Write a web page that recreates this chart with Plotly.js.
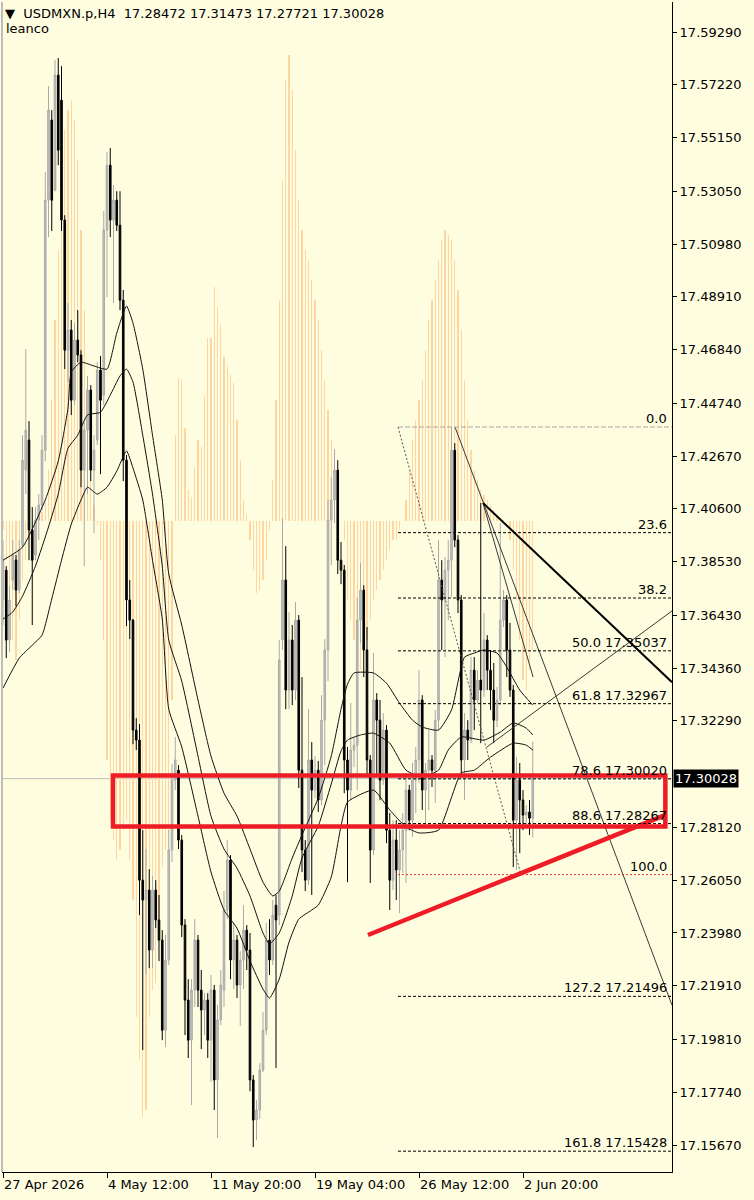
<!DOCTYPE html>
<html>
<head>
<meta charset="utf-8">
<script src="https://cdn.plot.ly/plotly-3.0.1.min.js"></script>
<style>html,body{margin:0;padding:0;background:#FEFDE0;}#chart{width:754px;height:1200px;}</style>
</head>
<body>
<div id="chart"></div>
<script>
// ---- OHLC (USDMXN.p, H4) ----
const open = [
17.3703,17.3820,17.3546,17.3781,17.3859,17.3742,17.3918,17.4212,17.4330,17.3977,
17.3879,17.4016,17.4075,17.4290,17.5270,17.5584,17.5309,17.5760,17.5662,17.5192,
17.4682,17.4761,17.4486,17.4722,17.4663,17.4212,17.4369,17.4526,17.4212,17.4330,
17.4604,17.4506,17.5153,17.5407,17.5192,17.5270,17.5172,17.4878,17.4251,17.3703,
17.3624,17.3193,17.3154,17.2605,17.2527,17.2566,17.2331,17.2566,17.2449,17.2370,
17.2017,17.2292,17.2723,17.2997,17.3036,17.2762,17.2429,17.2135,17.1978,17.2174,
17.2370,17.2174,17.2096,17.2135,17.1978,17.2174,17.1822,17.2057,17.2174,17.2488,
17.2684,17.2292,17.2370,17.2194,17.2292,17.2409,17.2331,17.1822,17.1665,17.1704,
17.1861,17.2017,17.2370,17.2292,17.2507,17.2468,17.3546,17.3781,17.3350,17.3546,
17.3350,17.3624,17.3036,17.2723,17.2605,17.3076,17.2958,17.3036,17.2919,17.3232,
17.3507,17.4016,17.4095,17.4212,17.3859,17.3820,17.3076,17.2958,17.3115,17.3134,
17.3624,17.3742,17.3507,17.3076,17.2723,17.3311,17.3232,17.2997,17.3193,17.2801,
17.2605,17.2762,17.2645,17.2723,17.2801,17.2958,17.2840,17.2997,17.3076,17.3311,
17.2958,17.3036,17.3076,17.3036,17.3232,17.3781,17.3703,17.3820,17.3859,17.4290,
17.3938,17.3703,17.3076,17.3193,17.3154,17.3428,17.3311,17.3389,17.3350,17.3546,
17.3428,17.3350,17.3232,17.3311,17.3624,17.3703,17.3507,17.3350,17.2840,17.2997,
17.2919,17.2860,17.2872,17.28472];
const high = [
17.3938,17.3836,17.3758,17.3938,17.3879,17.3938,17.4349,17.4686,17.4404,17.4067,
17.4067,17.4118,17.4349,17.5380,17.5717,17.5623,17.5819,17.5827,17.5795,17.5211,
17.4867,17.4800,17.4788,17.4839,17.4682,17.4400,17.4581,17.4545,17.4349,17.4635,
17.4659,17.5227,17.5458,17.5474,17.5329,17.5305,17.5305,17.4918,17.4271,17.3781,
17.3628,17.3240,17.3217,17.2801,17.2727,17.2648,17.2621,17.2605,17.2547,17.2409,
17.2390,17.2801,17.3060,17.3166,17.3056,17.2782,17.2452,17.2217,17.2217,17.2452,
17.2390,17.2253,17.2162,17.2162,17.2233,17.2194,17.2115,17.2253,17.2562,17.2762,
17.2703,17.2437,17.2390,17.2327,17.2507,17.2429,17.2398,17.1841,17.1743,17.1888,
17.2088,17.2437,17.2452,17.2527,17.2547,17.3546,17.4024,17.3914,17.3656,17.3605,
17.3695,17.3644,17.3401,17.2762,17.3275,17.3146,17.3091,17.3072,17.3330,17.3550,
17.4095,17.4185,17.4294,17.4251,17.3930,17.3840,17.3127,17.3299,17.3166,17.3714,
17.3848,17.3761,17.3597,17.3095,17.3495,17.3338,17.3311,17.3260,17.3213,17.2868,
17.2840,17.2840,17.2801,17.2868,17.3025,17.2978,17.3064,17.3127,17.3428,17.3330,
17.3064,17.3193,17.3095,17.3272,17.3938,17.3859,17.3871,17.3938,17.4381,17.4318,
17.3957,17.3722,17.3260,17.3232,17.3479,17.3479,17.3428,17.4083,17.3652,17.3565,
17.3507,17.3456,17.3362,17.4004,17.3742,17.3722,17.3613,17.3370,17.3087,17.3064,
17.2958,17.2899,17.2919,17.31473];
const low = [
17.3605,17.3475,17.3499,17.3742,17.3679,17.3730,17.3906,17.4118,17.3859,17.3605,
17.3859,17.3938,17.4055,17.4247,17.5125,17.5149,17.5305,17.5407,17.5149,17.4608,
17.4557,17.4428,17.4467,17.4635,17.4145,17.3836,17.4118,17.4169,17.3965,17.4310,
17.4196,17.4467,17.4890,17.5125,17.4867,17.5149,17.4839,17.4169,17.3601,17.3550,
17.3138,17.3115,17.2468,17.1939,17.2237,17.2260,17.2260,17.2417,17.2288,17.1978,
17.1951,17.2272,17.2676,17.2958,17.2727,17.2382,17.1998,17.1908,17.1724,17.2108,
17.2108,17.1943,17.1998,17.1908,17.1814,17.1704,17.1594,17.2037,17.2108,17.2452,
17.2217,17.2178,17.2143,17.2033,17.2178,17.2253,17.1778,17.1559,17.1586,17.1669,
17.1853,17.1998,17.2233,17.2272,17.1869,17.2429,17.3507,17.3275,17.3275,17.3291,
17.3311,17.2966,17.2637,17.2562,17.2586,17.2547,17.2927,17.2872,17.2899,17.3056,
17.3385,17.3840,17.4004,17.3805,17.3765,17.2946,17.2597,17.2919,17.3048,17.2958,
17.3534,17.3401,17.3009,17.2594,17.2703,17.3009,17.2919,17.2978,17.2750,17.2488,
17.2566,17.2527,17.2476,17.2633,17.2594,17.2801,17.2774,17.2868,17.2985,17.2880,
17.2829,17.2880,17.2970,17.2907,17.3193,17.3507,17.3479,17.3624,17.3714,17.3910,
17.3652,17.3009,17.2919,17.3076,17.3142,17.3193,17.3299,17.3142,17.3323,17.3350,
17.3272,17.3142,17.3205,17.3291,17.3597,17.3401,17.3323,17.2656,17.2645,17.2711,
17.2801,17.2821,17.2782,17.27721];
const close = [
17.3859,17.3546,17.3703,17.3879,17.3742,17.3899,17.4251,17.4369,17.3977,17.3859,
17.4016,17.4075,17.4290,17.5270,17.5623,17.5270,17.5760,17.5466,17.5192,17.4682,
17.4761,17.4486,17.4722,17.4663,17.4212,17.4369,17.4526,17.4212,17.4290,17.4604,
17.4486,17.5153,17.5407,17.5192,17.5270,17.5172,17.4878,17.4251,17.3703,17.3624,
17.3193,17.3154,17.2605,17.2527,17.2566,17.2331,17.2566,17.2449,17.2370,17.2017,
17.2292,17.2723,17.2997,17.3076,17.2762,17.2429,17.2135,17.1978,17.2174,17.2370,
17.2174,17.2096,17.2135,17.1978,17.2174,17.1822,17.2057,17.2194,17.2488,17.2684,
17.2292,17.2370,17.2194,17.2292,17.2409,17.2331,17.1822,17.1665,17.1704,17.1861,
17.2017,17.2370,17.2292,17.2468,17.2449,17.3468,17.3781,17.3350,17.3546,17.3350,
17.3624,17.3036,17.2723,17.2605,17.3076,17.2958,17.3036,17.2919,17.3232,17.3507,
17.4016,17.4095,17.4212,17.3859,17.3820,17.3076,17.2958,17.3115,17.3134,17.3624,
17.3742,17.3507,17.3076,17.2723,17.3311,17.3232,17.2997,17.3193,17.2801,17.2605,
17.2762,17.2645,17.2723,17.2801,17.2958,17.2840,17.2997,17.3076,17.3311,17.2958,
17.3036,17.3076,17.3036,17.3232,17.3781,17.3703,17.3820,17.3859,17.4290,17.3938,
17.3703,17.3076,17.3193,17.3154,17.3428,17.3311,17.3389,17.3350,17.3546,17.3428,
17.3350,17.3232,17.3311,17.3624,17.3703,17.3507,17.3350,17.2840,17.2997,17.2919,
17.2860,17.2872,17.2848,17.30028];

// ---- oscillator histogram (own scale, 0 = its baseline) ----
const oscValues = [
-9,-39,-79,-119,-139,-99,-59,-39,-19,-9,
-4,0,9,21,
51,121,201,271,341,391,411,421,401,361,291,211,121,
51,16,-4,-39,-119,
-239,-299,-319,-339,-329,-309,-299,-339,-379,-496,-539,-596,-589,
-496,-469,-462,-409,-346,-329,-312,-179,
86,143,141,93,31,24,54,81,74,126,183,183,234,214,196,164,154,146,138,101,61,21,6,
-19,-49,-72,-69,-59,-39,-9,41,
121,221,341,441,466,431,371,321,291,271,261,241,221,201,171,141,111,81,51,21,0,-19,
-79,-99,-119,-139,-149,-129,-119,-99,-79,-69,-59,-49,-39,-29,-19,
-19,-9,0,21,51,81,
101,121,141,171,201,221,241,261,281,
291,286,281,261,231,191,141,
101,71,51,41,31,26,21,16,11,6,3,1,0,
-19,-49,-79,-119,-159,-169,-149,-129];

// ---- moving-average lines (bar, price) ----
const maA_x = [0,6,13,17,20,21,24,28,32,35,38,40,43,46,49,51,55,60,64,68,72,76,80,83,85,89,92,97,101,104,106,108,114,118,122,126,129,134,138,142,145,148,152,155,159,163];
const maA_y = [17.3859,17.3910,17.4095,17.4247,17.4455,17.4596,17.4635,17.4620,17.4608,17.4749,17.4855,17.4788,17.4608,17.4349,17.4095,17.3805,17.3605,17.3311,17.3091,17.2946,17.2856,17.2727,17.2597,17.2543,17.2562,17.2692,17.2782,17.2927,17.3091,17.3275,17.3373,17.3417,17.3417,17.3377,17.3299,17.3232,17.3205,17.3193,17.3272,17.3479,17.3495,17.3507,17.3495,17.3440,17.3350,17.3291];
const maB_x = [0,3,6,10,14,17,20,23,26,30,33,36,38,40,43,46,49,51,55,60,64,68,72,76,80,82,85,89,92,97,101,104,106,110,114,119,124,129,134,137,141,148,153,157,161,163];
const maB_y = [17.3628,17.3656,17.3718,17.3836,17.3989,17.4118,17.4298,17.4349,17.4428,17.4439,17.4506,17.4581,17.4608,17.4557,17.4349,17.4118,17.3836,17.3546,17.3385,17.3091,17.2856,17.2727,17.2652,17.2543,17.2398,17.2355,17.2398,17.2543,17.2692,17.2817,17.2982,17.3111,17.3154,17.3174,17.3181,17.3142,17.3036,17.3009,17.3036,17.3115,17.3166,17.3154,17.3185,17.3221,17.3201,17.3174];
const maC_x = [0,5,9,12,15,18,21,24,26,29,32,35,38,40,43,46,49,51,55,60,64,68,72,76,80,82,85,88,91,95,97,101,104,106,114,119,124,128,134,141,145,150,157,161,163];
const maC_y = [17.3358,17.3475,17.3526,17.3565,17.3707,17.3859,17.4000,17.4095,17.4145,17.4118,17.4145,17.4208,17.4287,17.4220,17.4095,17.3859,17.3628,17.3275,17.3127,17.2856,17.2637,17.2488,17.2417,17.2288,17.2178,17.2143,17.2217,17.2362,17.2452,17.2488,17.2507,17.2617,17.2817,17.2911,17.2958,17.2880,17.2813,17.2790,17.2801,17.3025,17.3036,17.3087,17.3142,17.3134,17.3115];

// ---- Fibonacci retracement ----
const fibLevels = [0.0, 23.6, 38.2, 50.0, 61.8, 78.6, 88.6, 100.0, 127.2, 161.8];
const fibPrices = [17.43808, 17.39669, 17.37108, 17.35037, 17.32967, 17.30020, 17.28267, 17.26266, 17.21496, 17.15428];
const fibShowPrice = [false, false, false, true, true, true, true, false, true, true];
const fibAnchorBars = [121.54, 159.38];

// ---- drawn trend lines (bar, price) ----
const tl1_x = [139.08, 205.85], tl1_y = [17.43808, 17.2115];
const tl2_x = [147.69, 163.1],  tl2_y = [17.4083, 17.3401];
const tl3_x = [147.69, 205.85], tl3_y = [17.4083, 17.3381];
const tl4_x = [148.9, 205.85],  tl4_y = [17.3127, 17.3660];
const redLine_x = [112.3, 203.7], redLine_y = [17.2390, 17.2860];
const redBox_x = [33.85, 203.8], redBox_y = [17.2815, 17.3015];

// ---- axes ----
const xTickVals = [0, 32, 64, 96, 128, 160];
const xTickText = ['27 Apr 2026', '4 May 12:00', '11 May 20:00', '19 May 04:00', '26 May 12:00', '2 Jun 20:00'];
const yTickVals = [17.59290,17.57220,17.55150,17.53050,17.50980,17.48910,17.46840,17.44740,17.42670,17.40600,17.38530,17.36430,17.34360,17.32290,17.28120,17.26050,17.23980,17.21910,17.19810,17.17740,17.15670];
const xRange = [-0.3077, 205.846];
const yRange = [17.14612, 17.60466];

const barIndex = open.map((_, i) => i);
const lastClose = close[close.length - 1];

const traces = [];
traces.push({type:'bar', x:barIndex, y:oscValues, width:0.32, xaxis:'x', yaxis:'y',
  marker:{color:'#FFD6A2', line:{width:0}}, hoverinfo:'skip'});
traces.push({type:'candlestick', x:barIndex, open:open, high:high, low:low, close:close,
  xaxis:'x', yaxis:'y2', whiskerwidth:0,
  increasing:{line:{color:'#A9A9A9', width:1}, fillcolor:'#C2C2C2'},
  decreasing:{line:{color:'#000000', width:1}, fillcolor:'#000000'},
  hoverinfo:'skip'});
[[maA_x, maA_y], [maB_x, maB_y], [maC_x, maC_y]].forEach(m => {
  traces.push({type:'scatter', mode:'lines', x:m[0], y:m[1], xaxis:'x', yaxis:'y2',
    line:{color:'#111111', width:1, shape:'spline', smoothing:0.5}, hoverinfo:'skip'});
});
traces.push({type:'scatter', mode:'lines', x:fibAnchorBars, y:[fibPrices[0], fibPrices[7]], xaxis:'x', yaxis:'y2',
  line:{color:'#555555', width:1, dash:'2px,2px'}, hoverinfo:'skip'});
[[tl1_x, tl1_y], [tl2_x, tl2_y], [tl4_x, tl4_y]].forEach(t => {
  traces.push({type:'scatter', mode:'lines', x:t[0], y:t[1], xaxis:'x', yaxis:'y2',
    line:{color:'#3a3a3a', width:1}, hoverinfo:'skip'});
});
traces.push({type:'scatter', mode:'lines', x:tl3_x, y:tl3_y, xaxis:'x', yaxis:'y2',
  line:{color:'#000000', width:2}, hoverinfo:'skip'});
traces.push({type:'scatter', mode:'lines', x:redLine_x, y:redLine_y, xaxis:'x', yaxis:'y2',
  line:{color:'#EE1C25', width:4.5}, hoverinfo:'skip'});

const shapes = [];
shapes.push({type:'line', xref:'x', yref:'y2', x0:xRange[0], x1:xRange[1], y0:lastClose, y1:lastClose,
  line:{color:'#BDBDBD', width:1}, layer:'below'});
shapes.push({type:'line', xref:'paper', yref:'paper', x0:0, x1:0, y0:0, y1:1,
  line:{color:'#BDBDBD', width:2}});
fibLevels.forEach((lv, i) => {
  let col = '#000000', dash = '3px,2px';
  if (lv === 0) { col = '#A8A8A8'; dash = '5px,2px'; }
  if (lv === 100) { col = '#E03030'; dash = '2px,2px'; }
  shapes.push({type:'line', xref:'x', yref:'y2', x0:fibAnchorBars[0], x1:xRange[1], y0:fibPrices[i], y1:fibPrices[i],
    line:{color:col, width:1, dash:dash}, layer:'above'});
});
shapes.push({type:'rect', xref:'x', yref:'y2', x0:redBox_x[0], x1:redBox_x[1], y0:redBox_y[0], y1:redBox_y[1],
  line:{color:'#EE1C25', width:4.5}, fillcolor:'rgba(0,0,0,0)', layer:'above'});

const annotations = [];
fibLevels.forEach((lv, i) => {
  const txt = lv.toFixed(1) + (fibShowPrice[i] ? ' ' + fibPrices[i].toFixed(5) : '');
  annotations.push({xref:'paper', yref:'y2', x:1, y:fibPrices[i], xanchor:'right', yanchor:'bottom',
    xshift:-3, yshift:-1, text:txt, showarrow:false, font:{family:'DejaVu Sans', size:13, color:'#000'}});
});
annotations.push({xref:'paper', yref:'y2', x:1, y:lastClose, xanchor:'left', yanchor:'middle', xshift:1,
  text:lastClose.toFixed(5), showarrow:false, bgcolor:'#000000', borderpad:1,
  font:{family:'DejaVu Sans', size:13, color:'#FFFFFF'}});
annotations.push({xref:'paper', yref:'paper', x:0, y:1, xanchor:'left', yanchor:'top', xshift:2, yshift:-3,
  borderpad:0,
  text:'\u25BC\u00A0\u00A0USDMXN.p,H4\u00A0\u00A0' + [open, high, low, close].map(a => a[a.length-1].toFixed(5)).join(' '),
  showarrow:false, font:{family:'DejaVu Sans', size:13, color:'#000'}});
annotations.push({xref:'paper', yref:'paper', x:0, y:1, xanchor:'left', yanchor:'top', xshift:3, yshift:-18,
  borderpad:0, text:'leanco', showarrow:false, font:{family:'DejaVu Sans', size:13, color:'#000'}});

const layout = {
  width:754, height:1200, margin:{l:2, r:82, t:2, b:28},
  paper_bgcolor:'#FEFDE0', plot_bgcolor:'#FEFDE0', showlegend:false,
  font:{family:'DejaVu Sans', size:13, color:'#000'},
  bargap:0,
  xaxis:{range:xRange, tickvals:xTickVals, ticktext:xTickText, ticks:'outside', ticklen:5, tickcolor:'#000',
    showline:true, linecolor:'#000', linewidth:1, showgrid:false, zeroline:false,
    ticklabelposition:'outside right', rangeslider:{visible:false}, fixedrange:true,
    tickfont:{family:'DejaVu Sans', size:13, color:'#000'}},
  yaxis:{range:[-651, 519], visible:false, fixedrange:true, showgrid:false, zeroline:false},
  yaxis2:{overlaying:'y', side:'right', range:yRange, tickvals:yTickVals, tickformat:'.5f',
    ticks:'outside', ticklen:4, tickcolor:'#000', showline:true, linecolor:'#000', linewidth:1,
    showgrid:false, zeroline:false, fixedrange:true,
    tickfont:{family:'DejaVu Sans', size:13, color:'#000'}},
  shapes:shapes, annotations:annotations
};

Plotly.newPlot('chart', traces, layout, {staticPlot:true, displayModeBar:false});
</script>
</body>
</html>
